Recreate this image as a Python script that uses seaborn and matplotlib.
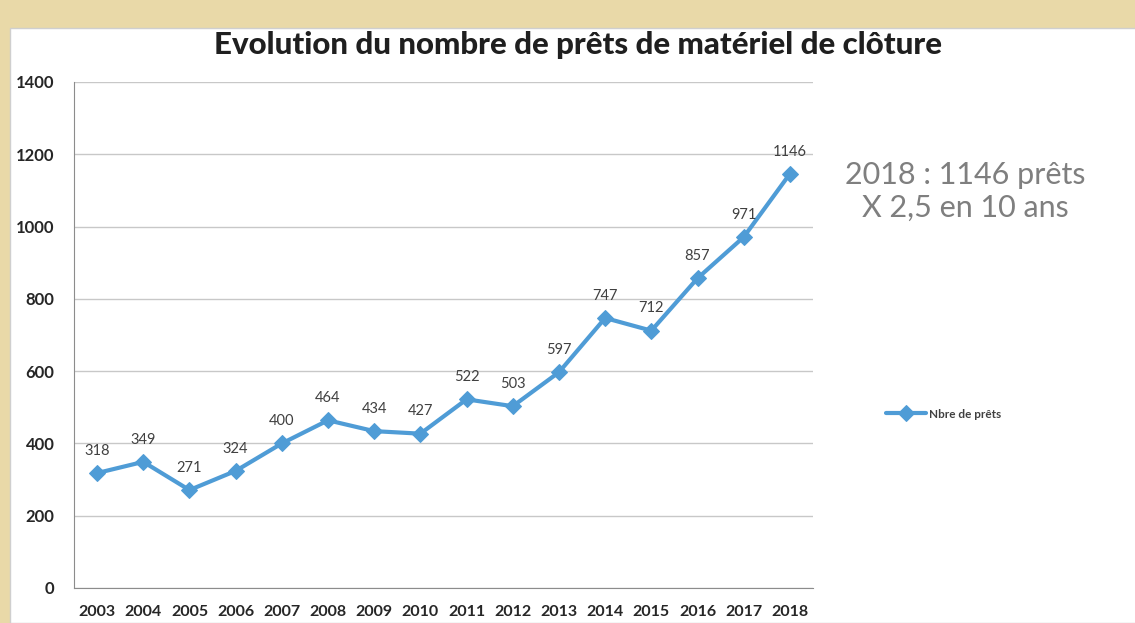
import numpy as np
import pandas as pd
import seaborn as sns
import matplotlib.pyplot as plt
from matplotlib.patches import Rectangle

years = ['2003', '2004', '2005', '2006', '2007', '2008', '2009', '2010',
         '2011', '2012', '2013', '2014', '2015', '2016', '2017', '2018']
prets = [318, 349, 271, 324, 400, 464, 434, 427,
         522, 503, 597, 747, 712, 857, 971, 1146]

df = pd.DataFrame({'annee': years, 'prets': prets})
df['pos'] = range(len(df))

sns.set_style('white')
plt.rcParams['font.family'] = ['Lato', 'DejaVu Sans']

fig = plt.figure(figsize=(11.35, 6.23), dpi=100)
fig.patch.set_facecolor('#e9d9a8')
# white chart area of the scanned slide
fig.patches.append(Rectangle((10 / 1135, 0), 1.0, 1 - 28 / 623,
                             transform=fig.transFigure, facecolor='white',
                             edgecolor='#cfcfcf', lw=1, zorder=-5))

ax = fig.add_axes([74 / 1135, 35 / 623, (813 - 74) / 1135, (588 - 82) / 623])
ax.set_zorder(2)
ax.set_facecolor('none')

line_col = '#4f9cd6'
sns.lineplot(data=df, x='pos', y='prets', ax=ax, color=line_col, lw=3,
             marker='D', markersize=8, markeredgecolor=line_col,
             label='Nbre de prêts')

for x, v in zip(df['pos'], df['prets']):
    ax.annotate(str(v), (x, v), xytext=(0, 11), textcoords='offset points',
                ha='center', va='bottom', fontsize=10.5, color='#404040')

ax.set_xlim(-0.5, len(years) - 0.5)
ax.set_ylim(0, 1400)
ax.set_yticks(range(0, 1401, 200))
ax.set_xticks(df['pos'])
ax.set_xticklabels(years)
ax.set_xticks(np.arange(-0.5, len(years), 1), minor=True)
ax.tick_params(axis='x', which='major', length=0, pad=12, labelsize=11.5,
               labelcolor='#262626')
ax.tick_params(axis='x', which='minor', length=5, color='#8c8c8c', direction='out')
ax.tick_params(axis='y', length=6, color='#8c8c8c', labelsize=12,
               labelcolor='#262626', pad=8, direction='out')
for lab in ax.get_xticklabels() + ax.get_yticklabels():
    lab.set_fontweight('bold')
ax.grid(axis='y', color='#c8c8c8', lw=1)
for s in ['top', 'right']:
    ax.spines[s].set_visible(False)
ax.spines['left'].set_color('#8c8c8c')
ax.spines['bottom'].set_color('#8c8c8c')
ax.set_xlabel('')
ax.set_ylabel('')

fig.text(578 / 1135, 1 - 45 / 623, 'Evolution du nombre de prêts de matériel de clôture',
         ha='center', va='center', fontsize=22.5, fontweight='black', color='#1f1f1f')
fig.text(965 / 1135, 1 - 191 / 623, '2018 : 1146 prêts\nX 2,5 en 10 ans',
         ha='center', va='center', fontsize=22, color='#7f7f7f', linespacing=1.2)

leg = ax.legend(loc='center left', bbox_to_anchor=(875 / 1135, 1 - 414 / 623),
                bbox_transform=fig.transFigure, frameon=False, fontsize=8.5,
                handlelength=3.4, handletextpad=0.3)
for t in leg.get_texts():
    t.set_fontweight('bold')
    t.set_color('#404040')

fig.savefig('out.png', dpi=100)
